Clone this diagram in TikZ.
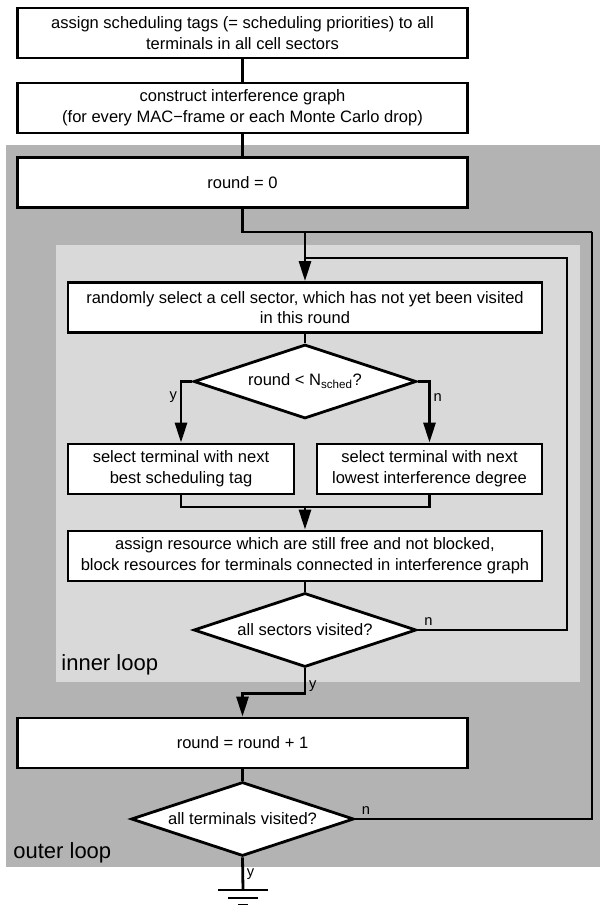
\documentclass[tikz,border=0pt]{standalone}
\usepackage{fontspec}
\setsansfont{Liberation Sans}
\usetikzlibrary{arrows.meta, positioning, shapes.geometric}

\definecolor{outergray}{RGB}{179,179,179}
\definecolor{innergray}{RGB}{217,217,217}

\begin{document}
\begin{tikzpicture}[
    x=0.75pt, y=-0.75pt,
    font=\sffamily\fontsize{12.4}{15.5}\selectfont,
    line width=2.1pt,
    >={Triangle[length=15pt, width=9pt]},
    every node/.style={align=center},
    stepbox/.style={draw, rectangle, fill=white, line width=2.1pt,
                    inner sep=0pt, minimum height=37.5pt},
    decision/.style={draw, diamond, fill=white, aspect=3, inner sep=1pt,
                     minimum width=167pt, minimum height=55.5pt},
    branch/.style={font=\sffamily\fontsize{11}{13}\selectfont, inner sep=2pt},
    looplabel/.style={font=\sffamily\fontsize{16.5}{20}\selectfont,
                      anchor=west, inner sep=0pt}
]
\useasboundingbox (0,0) rectangle (600,905);

%-------------------------------
% 1) Loop backgrounds
%-------------------------------
\fill[outergray] (6,145) rectangle (600,867);
\fill[innergray] (56,245) rectangle (580,682);

\node[looplabel] (innerlbl) at (60,665) {inner loop};
\node[looplabel] (outerlbl) at (12,853) {outer loop};

%-------------------------------
% 2) Setup steps
%-------------------------------
\node[stepbox, minimum width=338pt] (tags) at (242.5,33)
      {assign scheduling tags (= scheduling priorities) to all\\terminals in all cell sectors};
\node[stepbox, minimum width=338pt, below=16.65pt of tags] (graph)
      {construct interference graph\\(for every MAC−frame or each Monte Carlo drop)};
\node[stepbox, minimum width=338pt, below=16.3pt of graph] (round0) {round = 0};

%-------------------------------
% 3) Inner loop
%-------------------------------
\node[stepbox, minimum width=355.5pt] (select) at (305,307.5)
      {randomly select a cell sector, which has not yet been visited\\in this round};
\node[decision, below=6.9pt of select] (sched) {round < N\textsubscript{sched}?};

\node[stepbox, minimum width=169.5pt] (best) at (181,469)
      {select terminal with next\\best scheduling tag};
\node[stepbox, minimum width=168.75pt] (lowest) at (429.5,469)
      {select terminal with next\\lowest interference degree};

\node[stepbox, minimum width=355.5pt] (assign) at (305,556)
      {assign resource which are still free and not blocked,\\block resources for terminals connected in interference graph};
\node[decision, below=6.9pt of assign] (sectors) {all sectors visited?};

%-------------------------------
% 4) Outer loop
%-------------------------------
\node[stepbox, minimum width=338pt] (incr) at (242.5,743) {round = round + 1};
\node[decision, below=8.4pt of incr] (terminals) {all terminals visited?};

% junction points
\coordinate (outerR) at (592,232);
\coordinate (join) at (305,232);
\coordinate (innerR) at (567,258);
\coordinate (innerJ) at (305,258);
\coordinate (merge) at (305,507);
\coordinate (gnd) at (243,890);

%-------------------------------
% 5) Connections
%-------------------------------
\draw (tags) -- (graph);
\draw (graph) -- (round0);
\draw (round0.south) |- (outerR);
\draw[->] (join) -- (select);

\draw (select) -- (sched);
\draw[->] (sched.west) -| node[branch, pos=0.63, left] (ylbl1) {y} (best.north);
\draw[->] (sched.east) -| node[branch, pos=0.63, right] (nlbl1) {n} (lowest.north);

\draw (best.south) |- (merge);
\draw (lowest.south) |- (merge);
\draw[->] (merge) -- (assign);
\draw (assign) -- (sectors);

% back to the next sector
\draw (sectors.east) -| node[branch, pos=0, anchor=south west, xshift=2pt] (nlbl2) {n}
      (innerR) -- (innerJ);
\draw[->] (sectors.south) -- node[branch, pos=0.72, right] (ylbl2) {y} ++(0,25) -| (incr.north);

\draw (incr) -- (terminals);
% back to the next round
\draw (terminals.east) -| node[branch, pos=0, anchor=south west, xshift=2pt] (nlbl3) {n} (outerR);
\draw (terminals.south) -- node[branch, right] (ylbl3) {y} (gnd);

% ground
\draw (gnd) ++(-25,0) -- ++(50,0);
\draw (gnd) ++(-15,8) -- ++(30,0);
\draw (gnd) ++(-5,15) -- ++(10,0);

\end{tikzpicture}
\end{document}
